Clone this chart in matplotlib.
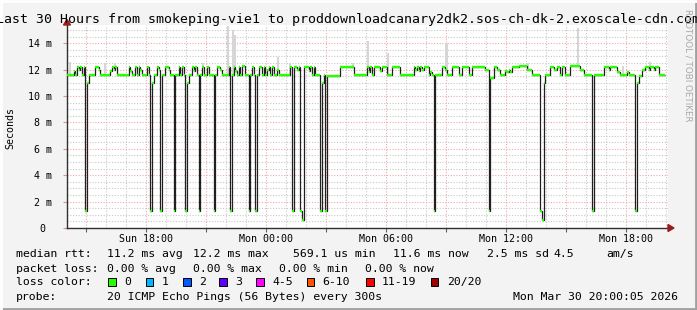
import numpy as np
import matplotlib
matplotlib.use("Agg")
import matplotlib.pyplot as plt
from matplotlib.patches import Polygon, Rectangle

# ---------------- data ----------------
start_hour = 14.05          # hours since Sun 00:00 (left edge of graph)
step_hours = 5.0 / 60.0     # one sample every 300 s

# median rtt (ms) as runs of equal 5-minute samples
run_values = [
    11.6, 11.9, 11.6, 12.2, 12.0, 12.2, 11.6, 12.2, 1.3, 11.0, 11.6, 12.2, 12.0, 11.6, 11.9, 12.2, 12.0, 12.2,
    11.6, 12.2, 11.9, 11.6, 12.2, 11.6, 12.2, 12.0, 11.6, 12.2, 11.6, 1.3, 11.0, 11.6, 12.2, 12.0, 1.3,
    11.6, 12.2, 12.0, 11.6, 1.3, 11.6, 12.2, 11.6, 12.2, 11.6, 1.3, 11.0, 11.6, 12.2, 11.9, 12.2, 11.6, 1.3,
    11.6, 12.2, 11.6, 12.2, 11.6, 1.3, 11.6, 12.2, 12.0, 11.6, 12.2, 1.3,
    11.6, 12.2, 11.9, 11.6, 12.2, 11.6, 12.3, 11.6, 1.3, 11.6, 12.2, 11.6, 1.3,
    11.6, 12.2, 11.6, 12.2, 11.6, 12.0, 12.2, 11.6, 12.2, 11.6, 12.0, 11.6, 12.2, 1.3,
    12.2, 12.0, 12.2, 1.25, 0.57, 12.2, 11.9, 12.2, 11.6, 12.2, 11.6, 1.3, 11.0, 11.6, 1.3,
    11.5, 12.2, 11.6, 12.2, 11.8, 12.2, 11.6, 12.2, 11.9, 12.2, 11.6, 12.2, 11.6,
    12.2, 12.0, 12.2, 11.9, 12.2, 12.0, 12.2, 11.6, 11.8, 11.6, 1.3,
    11.6, 12.2, 12.0, 11.6, 12.2, 11.6, 12.2, 11.6, 12.2, 12.0, 1.3,
    11.4, 12.2, 12.0, 11.6, 11.9, 11.8, 12.0, 11.8, 12.2, 12.3, 12.0, 11.6, 1.25, 0.57, 11.0,
    11.6, 12.2, 12.0, 12.2, 11.6, 12.2, 11.6, 12.3, 12.0, 11.6, 1.3,
    11.6, 12.2, 12.0, 12.2, 11.8, 11.6, 11.8, 11.6, 1.3,
    11.0, 11.5, 12.0, 12.2, 12.0, 12.2, 12.0, 12.2, 11.6,
]
run_lengths = [
    4, 1, 1, 1, 1, 1, 1, 1, 1, 1, 4, 2, 1, 6, 1, 1, 1, 1,
    7, 1, 1, 2, 1, 1, 1, 1, 3, 1, 1, 1, 1, 2, 1, 1, 1,
    2, 2, 1, 2, 1, 2, 1, 1, 1, 1, 1, 1, 2, 1, 1, 1, 1, 1,
    1, 1, 2, 1, 3, 1, 1, 2, 1, 4, 1, 1,
    1, 1, 1, 1, 1, 1, 2, 2, 1, 1, 1, 1, 1,
    1, 2, 1, 1, 1, 1, 1, 1, 1, 2, 1, 7, 1, 1,
    2, 1, 1, 1, 1, 3, 1, 1, 1, 1, 3, 1, 1, 1, 1,
    8, 8, 8, 1, 1, 1, 1, 4, 1, 3, 3, 5, 8,
    1, 1, 1, 1, 1, 1, 3, 1, 1, 1, 1,
    4, 2, 1, 3, 4, 2, 4, 2, 8, 2, 1,
    2, 2, 2, 3, 1, 1, 1, 1, 4, 5, 3, 5, 1, 1, 1,
    3, 2, 2, 2, 1, 2, 3, 6, 2, 5, 1,
    6, 3, 1, 4, 2, 4, 1, 4, 1,
    1, 2, 2, 2, 1, 2, 1, 2, 4,
]

# grey "smoke" spikes (hour of sample, highest ping in ms)
smoke_hours = [14.15, 15.95, 16.4, 20.8, 22.1, 22.35, 22.43, 24.6, 25.2, 28.35, 29.1, 30.1,
               33.05, 37.1, 39.55, 41.8, 43.2]
smoke_tops = [12.6, 12.5, 12.5, 12.5, 15.3, 15.0, 14.6, 12.95, 12.5, 12.5, 14.2, 13.25,
              14.0, 12.5, 15.15, 12.3, 12.6]

xtick_hours = [18, 24, 30, 36, 42]
xtick_labels = ["Sun 18:00", "Mon 00:00", "Mon 06:00", "Mon 12:00", "Mon 18:00"]
ytick_values = [0, 2, 4, 6, 8, 10, 12, 14]
ytick_labels = ["0 ", "2 m", "4 m", "6 m", "8 m", "10 m", "12 m", "14 m"]

loss_labels = ["0", "1", "2", "3", "4-5", "6-10", "11-19", "20/20"]
loss_colors = ["#26ff00", "#00b8ff", "#0059ff", "#5e00ff", "#ff00ff", "#ff5500", "#ff0000", "#a10000"]

title = "Last 30 Hours from smokeping-vie1 to proddownloadcanary2dk2.sos-ch-dk-2.exoscale-cdn.com"

# ---------------- figure ----------------
W, H = 697, 310
MONO = "DejaVu Sans Mono"
plt.rcParams["font.family"] = MONO

fig = plt.figure(figsize=(W / 100, H / 100), dpi=100, facecolor="#f3f3f3")


def fx(x):
    return x / W


def fy(y):
    return 1 - y / H


ax_l, ax_r, ax_b, ax_t = 67, 668, 228, 24.7
ax = fig.add_axes([fx(ax_l), fy(ax_b), (ax_r - ax_l) / W, (ax_b - ax_t) / H])
ax.set_facecolor("white")

x0 = start_hour
x1 = start_hour + (ax_r - ax_l) / 20.0
ax.set_xlim(x0, x1)
ax.set_ylim(0, 15.4)

# grid
grid_dash = (0, (1, 1.5))
for h in np.arange(15, 45, 1):
    major = (h % 3 == 0)
    ax.axvline(h, color="#f0a8a8" if major else "#c8c8c8", lw=0.8, ls=grid_dash, zorder=0.5 if major else 0.4)
for v in np.arange(0.5, 15.4, 0.5):
    major = abs(v % 2) < 1e-9
    ax.axhline(v, color="#f0a8a8" if major else "#c8c8c8", lw=0.8, ls=grid_dash, zorder=0.5 if major else 0.4)

median = np.repeat(run_values, run_lengths)
edges = start_hour + step_hours * np.arange(len(median) + 1)

# smoke
for h, top in zip(smoke_hours, smoke_tops):
    k = int((h - start_hour) / step_hours)
    base = median[k]
    ax.bar(edges[k], top - base, bottom=base, width=step_hours * 1.3, align="edge",
           color="#d6d6d6", linewidth=0, zorder=1)

# median line (black) with green loss-colour blocks on horizontal parts
ax.stairs(median, edges, baseline=None, color="#202020", lw=0.9, zorder=2)
ax.hlines(median, edges[:-1], edges[1:], colors=loss_colors[0], lw=1.7, zorder=3)

# axes styling
for s in ["top", "right"]:
    ax.spines[s].set_visible(False)
for s in ["left", "bottom"]:
    ax.spines[s].set_color("#303030")
    ax.spines[s].set_linewidth(1.0)

ax.set_xticks(xtick_hours)
ax.set_xticklabels(xtick_labels, fontsize=7.2, family=MONO)
ax.set_xticks(np.arange(15, 44, 3), minor=True)
ax.tick_params(axis="x", which="major", length=3, width=0.8, color="#606060", pad=1.0)
ax.tick_params(axis="x", which="minor", length=3, width=0.8, color="#606060")
ax.set_yticks(ytick_values)
ax.set_yticklabels(ytick_labels, fontsize=7.2, family=MONO)
ax.tick_params(axis="y", length=3, width=0.8, color="#e09090", pad=7.5)

# arrows
arrow_col = "#9a1c1c"
fig.patches.append(Polygon([(fx(63.5), fy(25)), (fx(70.5), fy(25)), (fx(67), fy(19.5))],
                           closed=True, transform=fig.transFigure, color=arrow_col))
fig.patches.append(Polygon([(fx(668), fy(224.5)), (fx(668), fy(231.5)), (fx(674), fy(228))],
                           closed=True, transform=fig.transFigure, color=arrow_col))

# title and side texts
fig.text(fx(348.5), fy(19), title, ha="center", va="center", fontsize=9.5, family=MONO, color="#000000")
fig.text(fx(10), fy(128), "Seconds", rotation=90, ha="center", va="center", fontsize=7.2, family=MONO)
fig.text(fx(688), fy(65), "RRDTOOL / TOBI OETIKER", rotation=270, ha="center", va="center",
         fontsize=6.3, family="DejaVu Sans", color="#a8a8a8")

# legend
fs = 8.25
def t(x, y, s, **kw):
    fig.text(fx(x), fy(y), s, ha="left", va="center", fontsize=fs, family=MONO, **kw)

y1, y2, y3, y4 = 254, 269, 282, 297
t(16, y1, "median rtt:")
t(107.3, y1, "11.2 ms avg")
t(193.3, y1, "12.2 ms max")
t(292.7, y1, "569.1 us min")
t(393.3, y1, "11.6 ms now")
t(486.7, y1, "2.5 ms sd")
t(553.3, y1, "4.5")
t(606.7, y1, "am/s")

t(16, y2, "packet loss:")
t(107.3, y2, "0.00 % avg")
t(193.3, y2, "0.00 % max")
t(279.3, y2, "0.00 % min")
t(365.0, y2, "0.00 % now")

t(16, y3, "loss color:")
box_x = [108, 145.7, 183, 219, 256, 306.7, 366, 430.7]
for bx, lab, col in zip(box_x, loss_labels, loss_colors):
    fig.patches.append(Rectangle((fx(bx), fy(285.5)), 7.5 / W, 7.5 / H, transform=fig.transFigure,
                                 facecolor=col, edgecolor="#000000", linewidth=0.7))
    t(bx + 16, y3, lab)

t(16, y4, "probe:")
t(107.3, y4, "20 ICMP Echo Pings (56 Bytes) every 300s")
t(512.7, y4, "Mon Mar 30 20:00:05 2026")

# 3-D frame of the rrdtool canvas
fig.add_artist(plt.Line2D([0, 1], [fy(308.5), fy(308.5)], transform=fig.transFigure, color="#a0a0a0", lw=2))
fig.add_artist(plt.Line2D([fx(696), fx(696)], [0, 1], transform=fig.transFigure, color="#a0a0a0", lw=2))
fig.add_artist(plt.Line2D([0, 1], [fy(0.5), fy(0.5)], transform=fig.transFigure, color="#ffffff", lw=2))
fig.add_artist(plt.Line2D([fx(0.5), fx(0.5)], [0, 1], transform=fig.transFigure, color="#ffffff", lw=2))

fig.savefig("out.png", dpi=100, facecolor=fig.get_facecolor())
